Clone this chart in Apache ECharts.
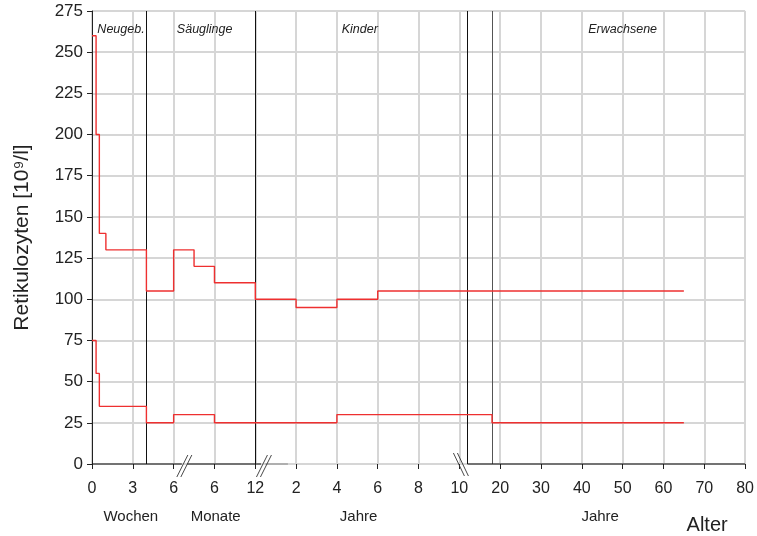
<!DOCTYPE html>
<html><head><meta charset="utf-8">
<script src="https://cdn.jsdelivr.net/npm/echarts@6/dist/echarts.min.js"></script>
<style>html,body{margin:0;padding:0;background:#fff}#c{width:757px;height:536px}</style>
</head><body><div id="c"></div>
<script>
// x axis is piecewise: each axis unit = one grid cell
// units 0..2 : weeks 0,3,6 | 3..4 : months 6,12 | 4..9 : years 1..10 | 9..16 : years 10..80
const xTickLabels = ['0','3','6','6','12','2','4','6','8','10','20','30','40','50','60','70','80'];
// upper reference limit: segment starts (axis units) and values
const upperX = [0, 0.1, 0.18, 0.34, 1.333, 2, 2.5, 3, 4, 5, 6, 7, 14.5];
const upperV = [260, 200, 140, 130, 105, 130, 120, 110, 100, 95, 100, 105];
// lower reference limit
const lowerX = [0, 0.1, 0.18, 1.333, 2, 3, 6, 9.8, 14.5];
const lowerV = [75, 55, 35, 25, 30, 25, 30, 25];
const phaseNames = ['Neugeb.', 'Säuglinge', 'Kinder', 'Erwachsene'];
const phaseCenters = [0.71, 2.76, 6.56, 13.0];
const boundaries = [1.333, 4, 9.2, 9.8];
const unitNames = ['Wochen', 'Monate', 'Jahre', 'Jahre'];
const unitCenters = [0.95, 3.03, 6.53, 12.45];
const breaksAt = [2.25, 4.2, 9.05];

const FONT = '"Liberation Sans", Arial, sans-serif';
function steps(xs, vs) {
  const d = vs.map((v, i) => [xs[i], v]);
  d.push([xs[xs.length - 1], vs[vs.length - 1]]);
  return d;
}
const chart = echarts.init(document.getElementById('c'), null, {renderer: 'canvas'});
const redStyle = {color: '#ee3030', width: 1.4};
chart.setOption({
  animation: false,
  backgroundColor: '#fff',
  grid: {left: 92, right: 11, top: 11, bottom: 72},
  xAxis: {
    type: 'value', min: 0, max: 16, interval: 1,
    axisLine: {show: false},
    axisTick: {show: true, length: 5, lineStyle: {color: '#222', width: 1}},
    axisLabel: {color: '#222', fontSize: 16, fontFamily: FONT, margin: 17,
      formatter: v => xTickLabels[Math.round(v)] ?? ''},
    splitLine: {show: true, lineStyle: {color: '#d6d6d6', width: 2}}
  },
  yAxis: {
    type: 'value', min: 0, max: 275, interval: 25,
    name: 'Retikulozyten [10⁹/l]', nameLocation: 'middle', nameGap: 59,
    nameTextStyle: {color: '#222', fontSize: 21, fontFamily: FONT},
    axisLine: {show: true, lineStyle: {color: '#222', width: 1}},
    axisTick: {show: true, length: 5, lineStyle: {color: '#222'}},
    axisLabel: {color: '#222', fontSize: 17, fontFamily: FONT, margin: 9},
    splitLine: {show: true, lineStyle: {color: '#d6d6d6', width: 2}}
  },
  series: [
    {
      type: 'line', step: 'end', data: steps(upperX, upperV), showSymbol: false,
      lineStyle: redStyle, z: 5,
      markLine: {
        silent: true, symbol: 'none', label: {show: false},
        data: boundaries.map((x, i) => ({xAxis: x,
          lineStyle: {color: i === 3 ? '#555' : '#111', width: 1, type: 'solid'}}))
      }
    },
    {
      type: 'line', step: 'end', data: steps(lowerX, lowerV), showSymbol: false,
      lineStyle: redStyle, z: 5
    }
  ]
});

function px(u, v) { return chart.convertToPixel({xAxisIndex: 0, yAxisIndex: 0}, [u, v]); }
const g = [];
const y0 = px(0, 0)[1];
// axis line segments
function seg(u1, u2, color) {
  const a = px(u1, 0), b = px(u2, 0);
  g.push({type: 'line', z: 10, shape: {x1: a[0], y1: y0, x2: b[0], y2: y0}, style: {stroke: color, lineWidth: 1}});
}
seg(0, 2.2, '#111');
seg(2.33, 4.14, '#111');
seg(4.25, 4.8, '#888');
seg(9.2, 16, '#111');
// break marks
breaksAt.forEach((u, i) => {
  const x = px(u, 0)[0];
  const back = i === 2;
  [-2, 2].forEach(o => {
    g.push({type: 'line', z: 11, shape: back
      ? {x1: x + o - 6, y1: y0 - 11, x2: x + o + 5, y2: y0 + 12}
      : {x1: x + o - 5, y1: y0 + 13, x2: x + o + 6, y2: y0 - 9},
      style: {stroke: '#333', lineWidth: 0.9}});
  });
});
// phase labels
phaseNames.forEach((t, i) => {
  const p = px(phaseCenters[i], 264);
  g.push({type: 'text', z: 12, x: p[0], y: p[1], style: {text: t, fill: '#222', font: 'italic 12.5px ' + FONT, align: 'center', verticalAlign: 'middle'}});
});
unitNames.forEach((t, i) => {
  const p = px(unitCenters[i], 0);
  g.push({type: 'text', z: 12, x: p[0], y: y0 + 53, style: {text: t, fill: '#222', font: '15px ' + FONT, align: 'center', verticalAlign: 'middle'}});
});
const pa = px(15.07, 0);
g.push({type: 'text', z: 12, x: pa[0], y: y0 + 61, style: {text: 'Alter', fill: '#222', font: '20px ' + FONT, align: 'center', verticalAlign: 'middle'}});
chart.setOption({graphic: g});
</script></body></html>
